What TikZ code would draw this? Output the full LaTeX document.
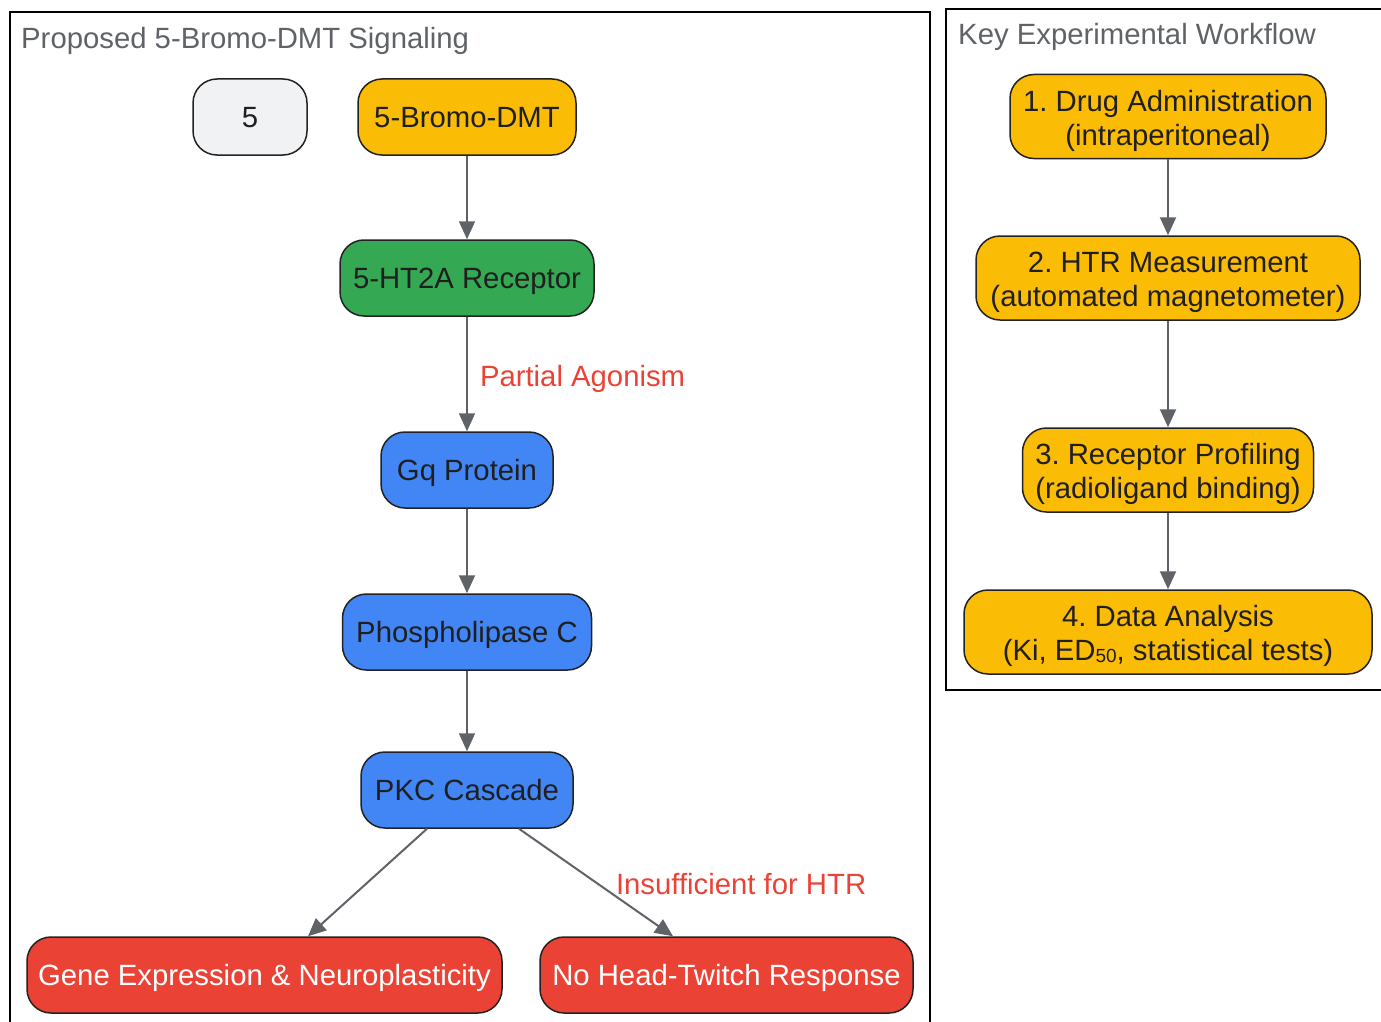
\documentclass[tikz,border=0pt]{standalone}
\usepackage{fontspec}
\setmainfont{Liberation Sans}
\usetikzlibrary{arrows.meta}
\definecolor{amber}{HTML}{FBBC05}
\definecolor{ggreen}{HTML}{34A853}
\definecolor{gblue}{HTML}{4285F4}
\definecolor{gred}{HTML}{EA4335}
\definecolor{lgray}{HTML}{F1F2F4}
\definecolor{arrgray}{HTML}{5F6368}
\definecolor{titlegray}{HTML}{5F6368}
\definecolor{txt}{HTML}{1F1F1F}
\definecolor{nodeline}{HTML}{222222}
\definecolor{lblred}{HTML}{EA4335}
\frenchspacing
\newcommand{\topstrut}{\rule{0pt}{29.5pt}}
\begin{document}
\begin{tikzpicture}[x=1pt,y=-1pt,
  basebox/.style={draw=nodeline, line width=1.5pt, rounded corners=24pt,
    inner sep=0pt, font=\fontsize{29.3}{34}\selectfont, text=txt, align=center},
  box/.style={basebox, minimum height=76pt, text height=21.5pt, text depth=0pt},
  box2/.style={basebox, minimum height=84pt},
  arr/.style={draw=arrgray, line width=2pt, -{Triangle[length=18pt,width=16pt]}},
  elabel/.style={font=\fontsize{29.3}{34}\selectfont, text=lblred, inner sep=0pt},
  ttl/.style={font=\fontsize{29.3}{34}\selectfont, text=titlegray, inner sep=0pt, anchor=base west},
  frame/.style={draw=black, line width=2pt}]
\useasboundingbox (0,0) rectangle (1381,1022);
% frames
\draw[frame] (10,1024) -- (10,12) -- (930,12) -- (930,1024);
\draw[frame] (1383,9) -- (946,9) -- (946,690) -- (1383,690);
\node[ttl] (t1) at (21,48.5) {Proposed 5-Bromo-DMT Signaling};
\node[ttl] (t2) at (958,44.5) {Key Experimental Workflow};
% left nodes
\node[box, fill=lgray, minimum width=114pt] (five) at (250,117) {5};
\node[box, fill=amber, minimum width=218pt] (bromo) at (467,117) {5-Bromo-DMT};
\node[box, fill=ggreen, minimum width=254pt] (htr2a) at (467,278) {5-HT2A Receptor};
\node[box, fill=gblue, minimum width=172pt] (gq) at (467,470) {Gq Protein};
\node[box, fill=gblue, minimum width=249pt] (plc) at (467,632) {Phospholipase C};
\node[box, fill=gblue, minimum width=212pt] (pkc) at (467,790) {PKC Cascade};
\node[box, fill=gred, text=white, minimum width=475pt] (gene) at (264.5,975) {Gene Expression \& Neuroplasticity};
\node[box, fill=gred, text=white, minimum width=373pt] (nohtr) at (726.5,975) {No Head-Twitch Response};
% left arrows
\draw[arr] (bromo) -- (htr2a);
\draw[arr] (htr2a) -- node[elabel, right, xshift=12pt, yshift=-5pt] {Partial Agonism} (gq);
\draw[arr] (gq) -- (plc);
\draw[arr] (plc) -- (pkc);
\draw[arr] ([xshift=-40pt]pkc.south) -- ([xshift=43.5pt]gene.north);
\draw[arr] ([xshift=52pt]pkc.south) -- node[elabel, right, xshift=19pt, yshift=-2pt] {Insufficient for HTR} ([xshift=-53.5pt]nohtr.north);
% right nodes
\node[box2, fill=amber, minimum width=316pt] (s1) at (1168,116.5) {\topstrut 1. Drug Administration\\(intraperitoneal)};
\node[box2, fill=amber, minimum width=384pt] (s2) at (1168,278) {\topstrut 2. HTR Measurement\\(automated magnetometer)};
\node[box2, fill=amber, minimum width=291pt] (s3) at (1168,470) {\topstrut 3. Receptor Profiling\\(radioligand binding)};
\node[box2, fill=amber, minimum width=408pt] (s4) at (1168,632) {\topstrut 4. Data Analysis\\(Ki, ED\raisebox{-1.5pt}{\fontsize{19}{19}\selectfont 50}, statistical tests)};
\draw[arr] (s1) -- (s2);
\draw[arr] (s2) -- (s3);
\draw[arr] (s3) -- (s4);
\end{tikzpicture}
\end{document}
